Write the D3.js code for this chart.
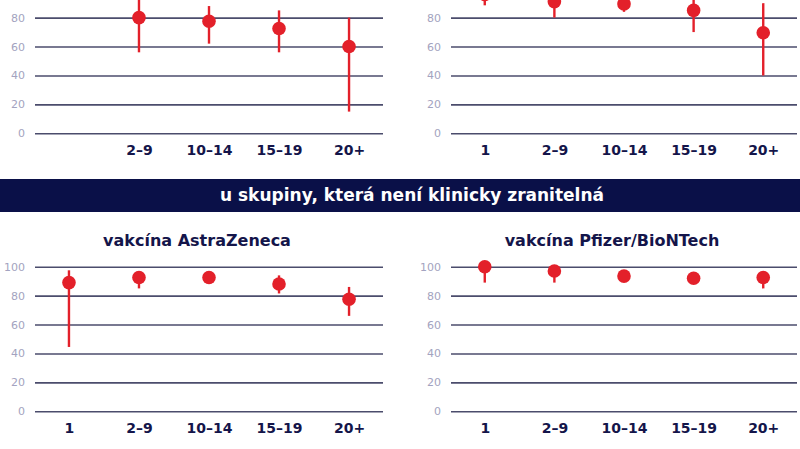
<!DOCTYPE html>
<html>
<head>
<meta charset="utf-8">
<script src="https://cdn.jsdelivr.net/npm/d3@7"></script>
<style>
  html, body { margin: 0; padding: 0; background: #ffffff; }
  svg { display: block; }
</style>
</head>
<body>
<svg id="chart" width="800" height="449"></svg>
<script>
// ---- data ----
const categories = ["1", "2–9", "10–14", "15–19", "20+"];
const yTicks = [0, 20, 40, 60, 80, 100];

// top row (clinically vulnerable group) – upper part cropped in the picture
const azVulnerableValue = [null, 80, 77.5, 72.5, 60];
const azVulnerableLow   = [null, 56, 62, 56, 15];
const azVulnerableHigh  = [null, 96, 88, 85, 80];

const pfVulnerableValue = [96, 91, 89.5, 85, 69.5];
const pfVulnerableLow   = [88.5, 80, 84, 70, 40];
const pfVulnerableHigh  = [100, 97, 93, 93, 90];

// bottom row (not clinically vulnerable group)
const azValue = [89, 92.5, 92.5, 88, 77.5];
const azLow   = [44.5, 85, 90, 81.5, 66];
const azHigh  = [97.5, 95, 95, 94, 86];

const pfValue = [100, 97, 93.5, 92, 92.5];
const pfLow   = [89, 89, 91, 90, 85];
const pfHigh  = [100, 99, 96, 94, 95];

const bannerText = "u skupiny, která není klinicky zranitelná";
const titleAZ = "vakcína AstraZeneca";
const titlePF = "vakcína Pfizer/BioNTech";

// ---- drawing ----
const svg = d3.select("#chart");
const RED = "#e3202a";
const NAVY = "#14154a";
const GRID = "#4b4c6c";
const TICK = "#a3a3c0";
const FONT = "'DejaVu Sans', Verdana, sans-serif";

function panel(opts) {
  const { x0, x1, yTop, yZero, values, lows, highs, title } = opts;
  const g = svg.append("g");
  const x = d3.scalePoint().domain(categories).range([x0, x1]).padding(0.485);
  const y = d3.scaleLinear().domain([0, 100]).range([yZero, yTop]);

  // gridlines (only those inside the visible picture)
  const visibleTicks = yTicks.filter(t => y(t) >= 0);
  const yAxis = d3.axisLeft(y).tickValues(visibleTicks).tickSize(-(x1 - x0)).tickPadding(10);
  const ax = g.append("g").attr("transform", `translate(${x0},0)`).call(yAxis);
  ax.select(".domain").remove();
  ax.selectAll(".tick line").attr("stroke", GRID).attr("stroke-width", 1.6);
  ax.selectAll(".tick text")
    .attr("fill", TICK).attr("font-family", FONT).attr("font-size", 11);

  // category labels
  const xAxis = d3.axisBottom(x).tickSize(0).tickPadding(12)
    .tickFormat((d, i) => values[i] == null ? "" : d);
  const bx = g.append("g").attr("transform", `translate(0,${yZero})`).call(xAxis);
  bx.select(".domain").remove();
  bx.selectAll(".tick text")
    .attr("fill", NAVY).attr("font-family", FONT).attr("font-size", 14)
    .attr("font-weight", 700);

  const data = categories.map((c, i) => ({ c, v: values[i], lo: lows[i], hi: highs[i] }))
    .filter(d => d.v != null);

  g.selectAll("line.ci").data(data).enter().append("line")
    .attr("class", "ci")
    .attr("x1", d => x(d.c)).attr("x2", d => x(d.c))
    .attr("y1", d => y(d.lo)).attr("y2", d => y(d.hi))
    .attr("stroke", RED).attr("stroke-width", 2.4);

  g.selectAll("circle.pt").data(data).enter().append("circle")
    .attr("class", "pt")
    .attr("cx", d => x(d.c)).attr("cy", d => y(d.v)).attr("r", 6.8)
    .attr("fill", RED);

  if (title) {
    g.append("text")
      .attr("x", (x0 + x1) / 2 - 12).attr("y", yTop - 25)
      .attr("text-anchor", "middle").attr("dominant-baseline", "middle")
      .attr("fill", NAVY).attr("font-family", FONT).attr("font-size", 16)
      .attr("font-weight", 700).text(title);
  }
}

// top row
panel({ x0: 35, x1: 383, yTop: -11.3, yZero: 133.3,
        values: azVulnerableValue, lows: azVulnerableLow, highs: azVulnerableHigh });
panel({ x0: 451, x1: 797, yTop: -11.3, yZero: 133.3,
        values: pfVulnerableValue, lows: pfVulnerableLow, highs: pfVulnerableHigh });

// banner
svg.append("rect").attr("x", 0).attr("y", 179).attr("width", 800).attr("height", 33)
  .attr("fill", "#0a1048");
svg.append("text").attr("x", 412).attr("y", 196)
  .attr("text-anchor", "middle").attr("dominant-baseline", "middle")
  .attr("fill", "#ffffff").attr("font-family", FONT).attr("font-size", 17)
  .attr("font-weight", 600).text(bannerText);

// bottom row
panel({ x0: 35, x1: 383, yTop: 266.7, yZero: 411.3,
        values: azValue, lows: azLow, highs: azHigh, title: titleAZ });
panel({ x0: 451, x1: 797, yTop: 266.7, yZero: 411.3,
        values: pfValue, lows: pfLow, highs: pfHigh, title: titlePF });
</script>
</body>
</html>
